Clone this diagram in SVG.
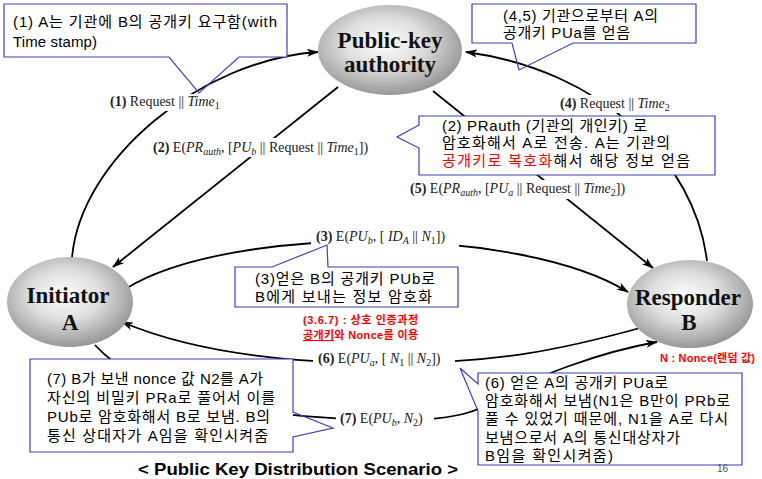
<svg xmlns="http://www.w3.org/2000/svg" width="762" height="479" viewBox="0 0 762 479">
<defs>
<radialGradient id="ng" cx="0.46" cy="0.42" r="0.62">
<stop offset="0" stop-color="#ffffff"/>
<stop offset="0.45" stop-color="#dedede"/>
<stop offset="1" stop-color="#8e8e8e"/>
</radialGradient>
<marker id="ah" viewBox="0 0 12 8" refX="11" refY="4" markerWidth="12" markerHeight="8" orient="auto" markerUnits="userSpaceOnUse">
<path d="M0,0 L12,4 L0,8 L3,4 z" fill="#000"/>
</marker>
</defs>
<style>
.c{fill:none;stroke:#000;stroke-width:1.8;marker-end:url(#ah)}
.nd{fill:url(#ng);stroke:none}
.nt{font-family:"Liberation Serif","Times New Roman",serif;font-weight:bold;font-size:23px;fill:#111;text-anchor:middle}
.el{font-family:"Liberation Serif","Times New Roman",serif;font-size:14px;fill:#222}
.b{font-weight:bold}
.i{font-style:italic}
.bg{fill:#fff;stroke:none}
.cb{fill:#fff;stroke:none}
.co{fill:none;stroke:#3f3fbf;stroke-width:1.2}
.ct{font-family:"Liberation Sans","Noto Sans CJK KR",sans-serif;font-size:15px;fill:#000}
.red{fill:#ff0000}
.rn{font-family:"Liberation Sans","Noto Sans CJK KR",sans-serif;font-size:11px;font-weight:bold;fill:#ff0000}
</style>
<rect width="762" height="479" fill="#fff"/>

<g id="connectors">
<path class="c" d="M72,258 C 80,160 200,60 318,52"/>
<path class="c" d="M338,87 L113,267"/>
<path class="c" d="M127,288 C 230,225 520,225 628,292"/>
<path class="c" d="M707,261 C 695,160 600,70 466,52"/>
<path class="c" d="M433,91 L653,268"/>
<path class="c" d="M640,328 C 560,350 500,362 400,363 C 300,364 200,355 122,322"/>
<path class="c" d="M95,345 C 140,395 250,420 400,420 C 460,420 480,410 500,398 C 530,378 600,352 657,342"/>
</g>

<g id="edge-labels">
<rect class="bg" x="106" y="94" width="126" height="17"/>
<text class="el" x="110" y="106"><tspan class="b">(1)</tspan> Request || <tspan class="i">Time</tspan><tspan font-size="10" dy="3">1</tspan></text>
<rect class="bg" x="150" y="138" width="242" height="19"/>
<text class="el" x="153" y="152"><tspan class="b">(2)</tspan> E(<tspan class="i">PR</tspan><tspan class="i" font-size="10" dy="3">auth</tspan><tspan dy="-3">, [</tspan><tspan class="i">PU</tspan><tspan class="i" font-size="10" dy="3">b</tspan><tspan dy="-3"> || Request || </tspan><tspan class="i">Time</tspan><tspan font-size="10" dy="3">1</tspan><tspan dy="-3">])</tspan></text>
<rect class="bg" x="556" y="95" width="126" height="18"/>
<text class="el" x="560" y="108"><tspan class="b">(4)</tspan> Request || <tspan class="i">Time</tspan><tspan font-size="10" dy="3">2</tspan></text>
<rect class="bg" x="406" y="180" width="240" height="19"/>
<text class="el" x="410" y="193"><tspan class="b">(5)</tspan> E(<tspan class="i">PR</tspan><tspan class="i" font-size="10" dy="3">auth</tspan><tspan dy="-3">, [</tspan><tspan class="i">PU</tspan><tspan class="i" font-size="10" dy="3">a</tspan><tspan dy="-3"> || Request || </tspan><tspan class="i">Time</tspan><tspan font-size="10" dy="3">2</tspan><tspan dy="-3">])</tspan></text>
<rect class="bg" x="311" y="228" width="148" height="19"/>
<text class="el" x="316" y="241"><tspan class="b">(3)</tspan> E(<tspan class="i">PU</tspan><tspan class="i" font-size="10" dy="3">b</tspan><tspan dy="-3">, [ </tspan><tspan class="i">ID</tspan><tspan class="i" font-size="10" dy="3">A</tspan><tspan dy="-3"> || </tspan><tspan class="i">N</tspan><tspan font-size="10" dy="3">1</tspan><tspan dy="-3">])</tspan></text>
<rect class="bg" x="313" y="350" width="142" height="19"/>
<text class="el" x="318" y="363"><tspan class="b">(6)</tspan> E(<tspan class="i">PU</tspan><tspan class="i" font-size="10" dy="3">a</tspan><tspan dy="-3">, [ </tspan><tspan class="i">N</tspan><tspan font-size="10" dy="3">1</tspan><tspan dy="-3"> || </tspan><tspan class="i">N</tspan><tspan font-size="10" dy="3">2</tspan><tspan dy="-3">])</tspan></text>
<rect class="bg" x="336" y="410" width="98" height="19"/>
<text class="el" x="340" y="423"><tspan class="b">(7)</tspan> E(<tspan class="i">PU</tspan><tspan class="i" font-size="10" dy="3">b</tspan><tspan dy="-3">, </tspan><tspan class="i">N</tspan><tspan font-size="10" dy="3">2</tspan><tspan dy="-3">)</tspan></text>
</g>

<g id="authority">
<ellipse class="nd" cx="390" cy="50" rx="72" ry="45"/>
<text class="nt" x="390" y="48">Public-key</text>
<text class="nt" x="390" y="72">authority</text>
</g>
<g id="initiator">
<ellipse class="nd" cx="70" cy="302" rx="63" ry="45"/>
<text class="nt" x="68" y="303">Initiator</text>
<text class="nt" x="70" y="330">A</text>
</g>
<g id="responder">
<ellipse class="nd" cx="690" cy="304" rx="63" ry="44"/>
<text class="nt" x="688" y="305">Responder</text>
<text class="nt" x="689" y="330">B</text>
</g>

<g id="callout1">
<rect class="cb" x="4" y="4" width="283" height="53"/>
<path class="co" d="M169,57 H4 V4 H287 V57 H239 L199,93 Z"/>
<text class="ct" x="13" y="27" textLength="264" lengthAdjust="spacing">(1) A는 기관에 B의 공개키 요구함(with</text>
<text class="ct" x="13" y="47" textLength="84" lengthAdjust="spacing">Time stamp)</text>
</g>

<g id="callout45">
<rect class="cb" x="472" y="4" width="224" height="39"/>
<path class="co" d="M512,43 H472 V4 H696 V43 H573 L519,70 Z"/>
<text class="ct" x="503" y="21" textLength="155" lengthAdjust="spacing">(4,5) 기관으로부터 A의</text>
<text class="ct" x="503" y="38" textLength="127" lengthAdjust="spacing">공개키 PUa를 얻음</text>
</g>

<g id="callout2">
<rect class="cb" x="419" y="116" width="296" height="59"/>
<path class="co" d="M419,125 V116 H715 V175 H419 V148 L397,137 Z"/>
<text class="ct" x="442" y="131" textLength="205" lengthAdjust="spacing">(2) PRauth (기관의 개인키) 로</text>
<text class="ct" x="442" y="148" textLength="228" lengthAdjust="spacing">암호화해서 A로 전송. A는 기관의</text>
<text class="ct" x="442" y="166" textLength="248" lengthAdjust="spacing"><tspan class="red">공개키로 복호화</tspan>해서 해당 정보 얻음</text>
</g>

<g id="callout3">
<rect class="cb" x="235" y="267" width="223" height="40"/>
<path class="co" d="M272,267 H235 V307 H458 V267 H328 L327,245 Z"/>
<text class="ct" x="255" y="284" textLength="180" lengthAdjust="spacing">(3)얻은 B의  공개키 PUb로</text>
<text class="ct" x="255" y="302" textLength="177" lengthAdjust="spacing">B에게 보내는 정보 암호화</text>
</g>

<g id="notes">
<text class="rn" x="303" y="324" textLength="115" lengthAdjust="spacing">(3.6.7) : 상호 인증과정</text>
<text class="rn" x="303" y="339" textLength="115" lengthAdjust="spacing"><tspan text-decoration="underline">공개키</tspan>와 Nonce를 이용</text>
<text class="rn" x="660" y="362" textLength="95" lengthAdjust="spacing">N : Nonce(랜덤 값)</text>
</g>

<g id="callout7">
<rect class="cb" x="30" y="359" width="263" height="93"/>
<path class="co" d="M293,412 V359 H30 V452 H293 V437 L333,428 Z"/>
<text class="ct" x="47" y="384" textLength="216" lengthAdjust="spacing">(7) B가 보낸 nonce 값 N2를 A가</text>
<text class="ct" x="47" y="403" textLength="228" lengthAdjust="spacing">자신의 비밀키 PRa로 풀어서 이를</text>
<text class="ct" x="47" y="422" textLength="223" lengthAdjust="spacing">PUb로 암호화해서 B로 보냄. B의</text>
<text class="ct" x="47" y="441" textLength="221" lengthAdjust="spacing">통신 상대자가 A임을 확인시켜줌</text>
</g>

<g id="callout6">
<rect class="cb" x="478" y="373" width="264" height="92"/>
<path class="co" d="M478,384 V373 H742 V465 H478 V411 L460,368 Z"/>
<text class="ct" x="485" y="388" textLength="183" lengthAdjust="spacing">(6) 얻은 A의 공개키 PUa로</text>
<text class="ct" x="485" y="406" textLength="245" lengthAdjust="spacing">암호화해서 보냄(N1은 B만이 PRb로</text>
<text class="ct" x="485" y="424" textLength="243" lengthAdjust="spacing">풀 수 있었기 때문에, N1을 A로 다시</text>
<text class="ct" x="485" y="443" textLength="195" lengthAdjust="spacing">보냄으로서 A의 통신대상자가</text>
<text class="ct" x="485" y="461" textLength="128" lengthAdjust="spacing">B임을 확인시켜줌)</text>
</g>

<g id="footer">
<text x="138" y="475" font-family="Liberation Sans, Noto Sans, sans-serif" font-weight="bold" font-size="17" textLength="320" lengthAdjust="spacingAndGlyphs" fill="#000">&lt; Public Key Distribution Scenario &gt;</text>
<text x="717" y="472" font-family="Liberation Sans, sans-serif" font-size="10" fill="#555">16</text>
</g>
</svg>
